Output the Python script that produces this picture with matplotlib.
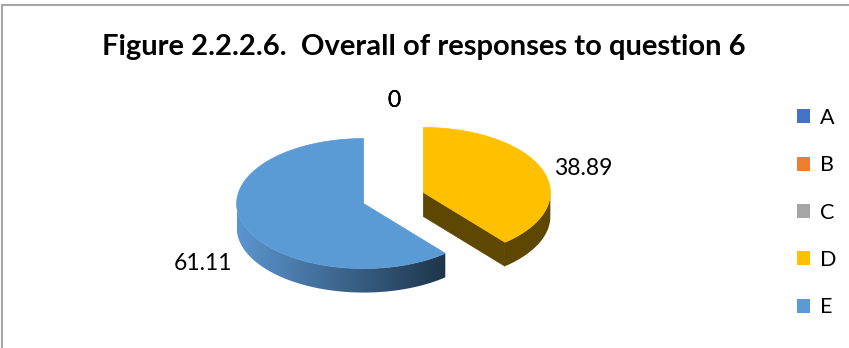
import matplotlib.pyplot as plt
import numpy as np
from matplotlib.patches import Polygon, Patch
from matplotlib.lines import Line2D
from matplotlib.colors import to_rgb

# Responses to question 6 (percent)
categories = ["A", "B", "C", "D", "E"]
values = [0, 0, 0, 38.89, 61.11]
labels = ["0", "0", "0", "38.89", "61.11"]
colors = ["#4472C4", "#ED7D31", "#A5A5A5", "#FFC000", "#5B9BD5"]
title = "Figure 2.2.2.6.  Overall of responses to question 6"

# 3-D pie layout in pixel units
W, H = 849, 348
CX, CY = 393.5, 198
RX, RY = 127, 65
DEPTH = 24
EXPLODE = 0.25
SIDE_COLORS = {"D": ("#5E4700", "#5E4700"), "E": ("#5B95CF", "#1E354B")}
LABEL_SHIFT = {"A": (0, -16, "center"), "B": (0, -16, "center"), "C": (0, -16, "center"),
               "D": (11, -2, "left"), "E": (-12, 38, "right")}

plt.rcParams["font.family"] = ["Lato", "DejaVu Sans"]

fig = plt.figure(figsize=(W / 100, H / 100), dpi=100)
ax = fig.add_axes([0, 0, 1, 1])


def pt(cx, cy, th, dy=0.0):
    return cx + RX * np.sin(th), cy - RY * np.cos(th) + dy


total = sum(values)
start = 0.0
wedges = []
for cat, v, col in zip(categories, values, colors):
    a0 = start
    a1 = start + 2 * np.pi * v / total
    start = a1
    mid = (a0 + a1) / 2
    cx = CX + EXPLODE * RX * np.sin(mid)
    cy = CY - EXPLODE * RY * np.cos(mid)
    wedges.append((cat, v, col, a0, a1, mid, cx, cy))

# side walls and cut faces first
for cat, v, col, a0, a1, mid, cx, cy in wedges:
    if v == 0:
        continue
    c_left, c_right = [np.array(to_rgb(c)) for c in SIDE_COLORS[cat]]
    lo, hi = max(a0, np.pi / 2), min(a1, 3 * np.pi / 2)
    if lo < hi:
        th = np.linspace(lo, hi, 120)
        xt, yt = pt(cx, cy, th)
        xb, yb = pt(cx, cy, th[::-1], DEPTH)
        poly = Polygon(np.column_stack([np.r_[xt, xb], np.r_[yt, yb]]),
                       closed=True, facecolor="none", edgecolor="none")
        ax.add_patch(poly)
        x0, x1 = min(xt.min(), xb.min()), max(xt.max(), xb.max())
        t = np.linspace(0, 1, 256)[:, None]
        grad = (c_left * (1 - t) + c_right * t)[None, :, :]
        im = ax.imshow(grad, extent=(x0, x1, max(yb) + 1, min(yt) - 1),
                       aspect="auto", interpolation="bilinear")
        im.set_clip_path(poly)
    # radial faces turned toward the viewer
    for th, visible in ((a1, np.sin(a1) > 1e-6), (a0, np.sin(a0) < -1e-6)):
        if visible:
            ex, ey = pt(cx, cy, th)
            face = [(cx, cy), (ex, ey), (ex, ey + DEPTH), (cx, cy + DEPTH)]
            ax.add_patch(Polygon(face, closed=True, facecolor=c_right,
                                 edgecolor=c_right, lw=0.5))

# top faces
for cat, v, col, a0, a1, mid, cx, cy in wedges:
    if v == 0:
        continue
    th = np.linspace(a0, a1, 200)
    xs, ys = pt(cx, cy, th)
    ax.add_patch(Polygon(np.column_stack([np.r_[cx, xs], np.r_[cy, ys]]),
                         closed=True, facecolor=col, edgecolor=col, lw=0.5))

# data labels
for (cat, v, col, a0, a1, mid, cx, cy), lab in zip(wedges, labels):
    lx, ly = pt(cx, cy, mid)
    dx, dy, ha = LABEL_SHIFT[cat]
    ax.text(lx + dx, ly + dy, lab, fontsize=16.5, ha=ha, va="center", color="#000000")

ax.set_xlim(0, W)
ax.set_ylim(H, 0)
ax.axis("off")

ax.text(424, 47, title, fontsize=21, fontweight="bold", ha="center", va="center")

handles = [Patch(facecolor=c, edgecolor="none") for c in colors]
ax.legend(handles, categories, loc="upper left", bbox_to_anchor=(797 / W, 1 - 108 / H),
          frameon=False, fontsize=15.5, handlelength=0.62, handleheight=0.62,
          handletextpad=0.45, labelspacing=1.27, borderaxespad=0, borderpad=0)

# chart border
fig.add_artist(Line2D([2 / W, 1], [1 - 5 / H, 1 - 5 / H], color="#A6A6A6", lw=1.5,
                      transform=fig.transFigure))
fig.add_artist(Line2D([2 / W, 2 / W], [0, 1 - 5 / H], color="#A6A6A6", lw=1.5,
                      transform=fig.transFigure))

fig.savefig("out.png", dpi=100)
